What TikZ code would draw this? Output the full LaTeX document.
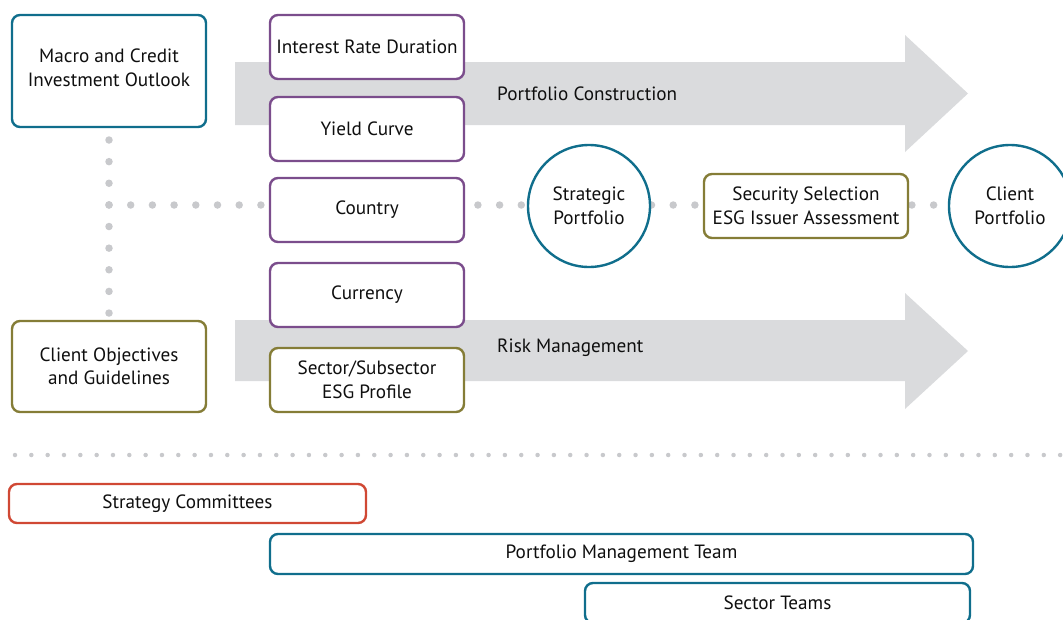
\documentclass[tikz,border=0pt]{standalone}
\usepackage{fontspec}
\setmainfont{PT Sans}
\definecolor{teal}{RGB}{16,110,140}
\definecolor{purp}{RGB}{123,77,140}
\definecolor{olive}{RGB}{133,125,55}
\definecolor{redc}{RGB}{208,72,52}
\definecolor{arrowgray}{RGB}{218,219,221}
\definecolor{dotgray}{RGB}{200,201,204}
\definecolor{txt}{RGB}{15,15,15}
\begin{document}
\begin{tikzpicture}[x=1pt,y=-1pt,
  box/.style={draw, line width=2.4pt, rounded corners=8pt, fill=white, align=center,
    inner sep=0pt, text=txt, font=\fontsize{19.2}{23.5}\selectfont},
  rnd/.style={draw, circle, line width=2.4pt, fill=white, align=center, inner sep=0pt,
    minimum size=122pt, text=txt, font=\fontsize{19.2}{23.5}\selectfont, draw=teal},
  lbl/.style={text=txt, font=\fontsize{19.2}{23.5}\selectfont, anchor=west, inner sep=0pt},
  bigdots/.style={draw=dotgray, line width=7.5pt, line cap=round, dash pattern=on 0pt off 21.7pt},
  smalldots/.style={draw=dotgray, line width=4.5pt, line cap=round, dash pattern=on 0pt off 16.33pt},
  band/.style={fill=arrowgray, draw=none}
]
\useasboundingbox (0,0) rectangle (1063,619);

% grey arrows
\fill[band] (235,62) -- (905,62) -- (905,35) -- (968,93.5) -- (905,152) -- (905,125) -- (235,125) -- cycle;
\fill[band] (235,320) -- (905,320) -- (905,293) -- (968,351) -- (905,409) -- (905,381) -- (235,381) -- cycle;
\node[lbl] (pc) at (497,94) {Portfolio Construction};
\node[lbl] (rm) at (497,348) {Risk Management};

% dotted connectors
\coordinate (vtop) at (109,140);
\coordinate (vbot) at (109,313.1);
\coordinate (hl) at (109,205);
\coordinate (hr) at (934,205);
\draw[bigdots, dash pattern=on 0pt off 21.63pt] (vtop) -- (vbot);
\draw[bigdots] (hl) -- (hr);
\coordinate (sl) at (15,455);
\coordinate (sr) at (1065,455);
\draw[smalldots] (sl) -- (sr);

% left boxes
\node[box, draw=teal, minimum width=194pt, minimum height=112pt] (macro) at (109,71) {};
\node[text=txt, font=\fontsize{19.2}{23.5}\selectfont, align=center, inner sep=0pt] (macrotext) at (109,68) {Macro and Credit\\Investment Outlook};
\node[box, draw=olive, minimum width=194pt, minimum height=91pt] (client) at (109,366.5) {Client Objectives\\and Guidelines};

% middle column
\node[box, draw=purp, minimum width=194pt, minimum height=64pt] (ird) at (367,47) {Interest Rate Duration};
\node[box, draw=purp, minimum width=194pt, minimum height=64pt] (yc) at (367,129) {Yield Curve};
\node[box, draw=purp, minimum width=194pt, minimum height=64pt] (country) at (367,210) {Country};
\node[box, draw=purp, minimum width=194pt, minimum height=64pt] (curr) at (367,295) {Currency};
\node[box, draw=olive, minimum width=194pt, minimum height=64pt] (sector) at (367,380) {Sector/Subsector\\ESG Profile};

% right
\node[rnd] (strat) at (589,206) {Strategic\\Portfolio};
\node[box, draw=olive, minimum width=204pt, minimum height=64pt] (sec) at (806,206) {Security Selection\\ESG Issuer Assessment};
\node[rnd] (cp) at (1010,206) {Client\\Portfolio};

% teams
\node[box, draw=redc, minimum width=357pt, minimum height=39pt] (sc) at (187.5,503.5) {Strategy Committees};
\node[box, draw=teal, minimum width=703pt, minimum height=40pt] (pmt) at (621.5,554) {Portfolio Management Team};
\node[box, draw=teal, minimum width=385pt, minimum height=40pt] (st) at (777.5,603) {Sector Teams};
\end{tikzpicture}
\end{document}
